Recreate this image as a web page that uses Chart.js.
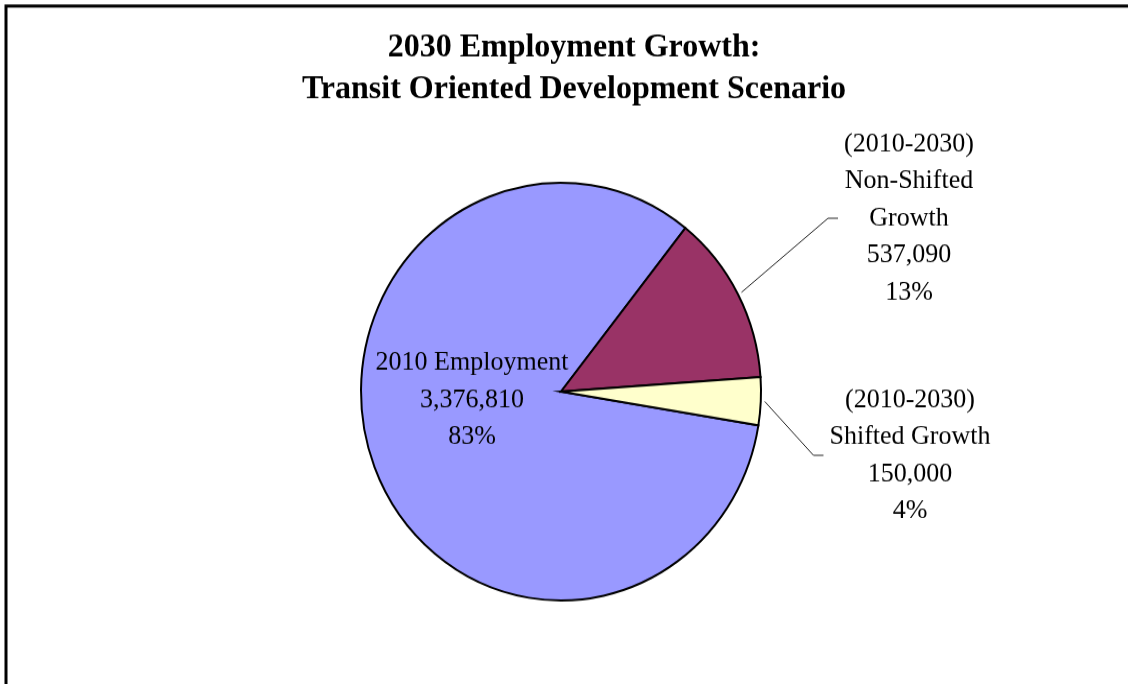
<!DOCTYPE html>
<html lang="en">
<head>
<meta charset="UTF-8">
<title>2030 Employment Growth</title>
<script src="https://cdn.jsdelivr.net/npm/chart.js"></script>
<style>
  body { margin: 0; background: #fff; }
</style>
</head>
<body>
<!-- drawn a little short and shown at full height, so the pie comes out slightly tall -->
<canvas id="pieChart" width="1128" height="655" style="display:block;width:1128px;height:684px"></canvas>
<script>
const titleLines = ['2030 Employment Growth:', 'Transit Oriented Development Scenario'];
const categories = [
    ['2010 Employment'],
    ['(2010-2030)', 'Non-Shifted', 'Growth'],
    ['(2010-2030)', 'Shifted Growth']
];
const jobs = [3376810, 537090, 150000];
const sliceColors = ['#9999FF', '#993366', '#FFFFCC'];

// label block centre, relative to the pie centre; leader = draw a line back to the slice
const labelSpots = [
    { dx: -89, dy: 8, leader: false },
    { dx: 348, dy: -166, leader: true },
    { dx: 349, dy: 61, leader: true }
];

const serif = '"Liberation Serif", "Times New Roman", serif';

const pieDecor = {
    id: 'pieDecor',
    beforeDraw(chart) {
        const ctx = chart.ctx;
        ctx.save();
        ctx.fillStyle = '#fff';
        ctx.fillRect(0, 0, chart.width, chart.height);
        // outer frame, runs off the right and bottom edges
        ctx.strokeStyle = '#000';
        ctx.lineWidth = 3;
        ctx.strokeRect(6, 5.75, chart.width + 20, chart.height + 20);
        ctx.restore();
    },
    afterDraw(chart) {
        const ctx = chart.ctx;
        const arcs = chart.getDatasetMeta(0).data;
        const total = jobs.reduce((a, b) => a + b, 0);
        ctx.save();
        ctx.fillStyle = '#000';
        ctx.textAlign = 'center';
        ctx.textBaseline = 'middle';

        ctx.font = 'bold 32px ' + serif;
        titleLines.forEach((t, i) => ctx.fillText(t, 574, 46 + i * 40));

        ctx.font = '26px ' + serif;
        const lh = 35.5;
        arcs.forEach((arc, i) => {
            const lines = categories[i].concat([
                jobs[i].toLocaleString('en-US'),
                Math.round(jobs[i] / total * 100) + '%'
            ]);
            const spot = labelSpots[i];
            const cx = arc.x + spot.dx;
            const cy = arc.y + spot.dy;
            const top = cy - (lines.length - 1) * lh / 2;
            lines.forEach((l, j) => ctx.fillText(l, cx, top + j * lh));

            if (spot.leader) {
                const mid = (arc.startAngle + arc.endAngle) / 2;
                const r = arc.outerRadius + 4;
                const wide = Math.max(...lines.map(l => ctx.measureText(l).width));
                const endX = cx - wide / 2 - 6;
                ctx.beginPath();
                ctx.moveTo(arc.x + r * Math.cos(mid), arc.y + r * Math.sin(mid));
                ctx.lineTo(endX - 10, cy);
                ctx.lineTo(endX, cy);
                ctx.lineWidth = 1;
                ctx.strokeStyle = '#222';
                ctx.stroke();
            }
        });
        ctx.restore();
    }
};

new Chart(document.getElementById('pieChart'), {
    type: 'pie',
    data: {
        labels: categories,
        datasets: [{
            data: jobs,
            backgroundColor: sliceColors,
            borderColor: '#000',
            borderWidth: 2,
            borderJoinStyle: 'miter',
            radius: 200
        }]
    },
    options: {
        responsive: false,
        animation: false,
        rotation: 99.3,
        layout: {
            padding: { left: 361, right: 367, top: 165, bottom: 70 }
        },
        plugins: {
            legend: { display: false },
            tooltip: { enabled: false },
            title: { display: false }
        }
    },
    plugins: [pieDecor]
});
</script>
</body>
</html>
